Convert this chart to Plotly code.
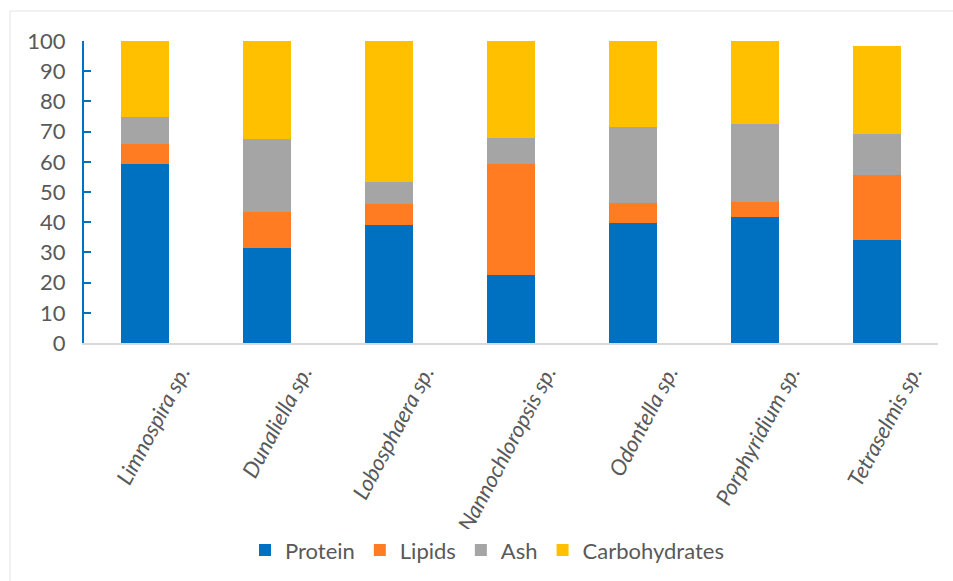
import plotly.graph_objects as go

# Biochemical composition (% dry weight) of microalgae species
species = ["Limnospira sp.", "Dunaliella sp.", "Lobosphaera sp.", "Nannochloropsis sp.",
           "Odontella sp.", "Porphyridium sp.", "Tetraselmis sp."]
protein = [59.2, 31.5, 39.2, 22.6, 39.6, 41.6, 34.1]
lipids = [6.7, 12.0, 6.8, 36.6, 6.7, 5.2, 21.6]
ash = [8.9, 24.1, 7.2, 8.8, 25.1, 25.8, 13.5]
carbohydrates = [25.2, 32.4, 46.8, 32.0, 28.6, 27.4, 29.1]
y_ticks = [0, 10, 20, 30, 40, 50, 60, 70, 80, 90, 100]

series = [
    ("Protein", protein, "#0070C0"),
    ("Lipids", lipids, "#FF7C22"),
    ("Ash", ash, "#A5A5A5"),
    ("Carbohydrates", carbohydrates, "#FFC000"),
]

FONT = "Lato"
GREY = "#595959"

fig = go.Figure()
for name, vals, color in series:
    fig.add_trace(go.Bar(
        name=name, x=species, y=vals, width=0.4,
        marker=dict(color=color, line=dict(width=0)),
    ))

fig.update_layout(
    barmode="stack",
    width=953, height=581,
    margin=dict(l=84, r=15, t=41, b=238),
    paper_bgcolor="white", plot_bgcolor="white",
    font=dict(family=FONT, color=GREY),
    showlegend=True,
    legend=dict(
        orientation="h", xref="container", yref="container",
        x=0.511, y=0.053, xanchor="center", yanchor="middle",
        font=dict(size=22, color=GREY, family=FONT),
        traceorder="normal", itemwidth=30,
    ),
)

fig.update_xaxes(
    range=[-0.5, 6.5], automargin=False,
    showline=True, linecolor="#D9D9D9", linewidth=2,
    ticks="", showgrid=False, zeroline=False,
    tickangle=-62,
    tickfont=dict(family=FONT, size=22, color=GREY, style="italic"),
    ticklabelshift=36,
    ticklabelstandoff=6,
)
fig.update_yaxes(
    range=[0, 100], tickvals=y_ticks, automargin=False,
    showline=True, linecolor="#0070C0", linewidth=2,
    ticks="inside", ticklen=7, tickwidth=2, tickcolor="#0070C0",
    showgrid=False, zeroline=False,
    tickfont=dict(family=FONT, size=22, color=GREY),
    ticklabelstandoff=12,
)

# light frame around the chart area
fig.add_shape(type="line", xref="paper", yref="paper",
              x0=-74 / 854, x1=1.2, y0=1 + 30 / 302, y1=1 + 30 / 302,
              line=dict(color="#E3E3E3", width=1))
fig.add_shape(type="line", xref="paper", yref="paper",
              x0=-74 / 854, x1=-74 / 854, y0=1 + 30 / 302, y1=-1.0,
              line=dict(color="#E3E3E3", width=1))

fig.write_html("out.html")
